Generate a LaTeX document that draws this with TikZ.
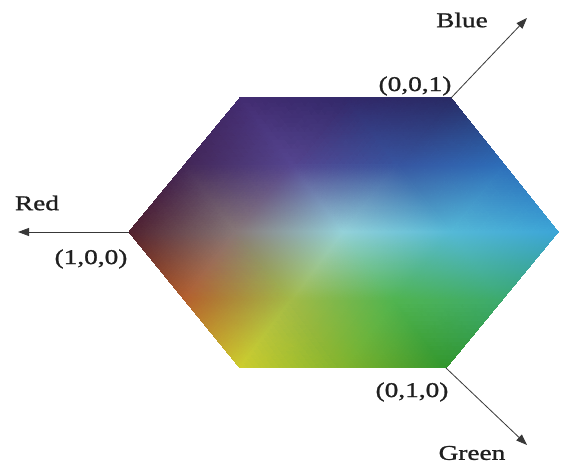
\documentclass[tikz,border=0pt]{standalone}
\usepackage{fontspec}
\setmainfont{Liberation Serif}
\newfontfamily\labfont[FakeStretch=1.3,FakeBold=1.2]{Liberation Serif}
\usepackage{pgfplots}
\pgfplotsset{compat=1.18}
\usetikzlibrary{arrows.meta}
\begin{document}
\begin{tikzpicture}[x=1pt,y=1pt,
  lab/.style={font=\labfont\fontsize{21}{24}\selectfont, inner sep=0pt, text=black!88},
  axisarrow/.style={draw=black!78, line width=0.8pt, -{Triangle[length=11pt,width=8pt]}}]
\useasboundingbox (0,0) rectangle (573,463);
\begin{axis}[anchor=origin, at={(0,0)}, x=1pt, y=1pt, hide axis,
  xmin=0, xmax=573, ymin=0, ymax=463, clip=false]
\addplot[patch, patch type=triangle, shader=interp, mesh/color input=explicit]
table[meta=c, row sep=\\] {
x y c\\
236 231 rgb=0.530,0.470,0.470\\
129 231 rgb=0.310,0.125,0.180\\
184.5 298 rgb=0.260,0.150,0.340\\
236 231 rgb=0.530,0.470,0.470\\
184.5 298 rgb=0.260,0.150,0.340\\
291.5 298 rgb=0.330,0.270,0.560\\
291.5 298 rgb=0.330,0.270,0.560\\
184.5 298 rgb=0.260,0.150,0.340\\
240 365 rgb=0.260,0.170,0.440\\
291.5 298 rgb=0.330,0.270,0.560\\
240 365 rgb=0.260,0.170,0.440\\
345.5 365 rgb=0.196,0.157,0.412\\
291.5 298 rgb=0.330,0.270,0.560\\
345.5 365 rgb=0.196,0.157,0.412\\
397 298 rgb=0.216,0.333,0.627\\
397 298 rgb=0.216,0.333,0.627\\
345.5 365 rgb=0.196,0.157,0.412\\
451 365 rgb=0.157,0.165,0.392\\
397 298 rgb=0.216,0.333,0.627\\
451 365 rgb=0.157,0.165,0.392\\
504.5 298 rgb=0.176,0.431,0.725\\
397 298 rgb=0.216,0.333,0.627\\
504.5 298 rgb=0.176,0.431,0.725\\
450.5 231 rgb=0.333,0.725,0.843\\
450.5 231 rgb=0.333,0.725,0.843\\
504.5 298 rgb=0.176,0.431,0.725\\
558 231 rgb=0.235,0.647,0.843\\
450.5 231 rgb=0.333,0.725,0.843\\
558 231 rgb=0.235,0.647,0.843\\
502 163 rgb=0.235,0.667,0.431\\
450.5 231 rgb=0.333,0.725,0.843\\
502 163 rgb=0.235,0.667,0.431\\
394.5 163 rgb=0.314,0.706,0.314\\
394.5 163 rgb=0.314,0.706,0.314\\
502 163 rgb=0.235,0.667,0.431\\
446 95 rgb=0.196,0.588,0.176\\
394.5 163 rgb=0.314,0.706,0.314\\
446 95 rgb=0.196,0.588,0.176\\
343 95 rgb=0.510,0.706,0.176\\
394.5 163 rgb=0.314,0.706,0.314\\
343 95 rgb=0.510,0.706,0.176\\
291.5 163 rgb=0.640,0.730,0.280\\
291.5 163 rgb=0.640,0.730,0.280\\
343 95 rgb=0.510,0.706,0.176\\
240 95 rgb=0.804,0.804,0.176\\
291.5 163 rgb=0.640,0.730,0.280\\
240 95 rgb=0.804,0.804,0.176\\
184.5 163 rgb=0.706,0.373,0.176\\
291.5 163 rgb=0.640,0.730,0.280\\
184.5 163 rgb=0.706,0.373,0.176\\
236 231 rgb=0.530,0.470,0.470\\
236 231 rgb=0.530,0.470,0.470\\
184.5 163 rgb=0.706,0.373,0.176\\
129 231 rgb=0.310,0.125,0.180\\
343 231 rgb=0.580,0.820,0.850\\
236 231 rgb=0.530,0.470,0.470\\
291.5 298 rgb=0.330,0.270,0.560\\
343 231 rgb=0.580,0.820,0.850\\
291.5 298 rgb=0.330,0.270,0.560\\
397 298 rgb=0.216,0.333,0.627\\
343 231 rgb=0.580,0.820,0.850\\
397 298 rgb=0.216,0.333,0.627\\
450.5 231 rgb=0.333,0.725,0.843\\
343 231 rgb=0.580,0.820,0.850\\
450.5 231 rgb=0.333,0.725,0.843\\
394.5 163 rgb=0.314,0.706,0.314\\
343 231 rgb=0.580,0.820,0.850\\
394.5 163 rgb=0.314,0.706,0.314\\
291.5 163 rgb=0.640,0.730,0.280\\
343 231 rgb=0.580,0.820,0.850\\
291.5 163 rgb=0.640,0.730,0.280\\
236 231 rgb=0.530,0.470,0.470\\
};
\end{axis}
% hexagon corners
\coordinate (v0) at (129,231);
\coordinate (v2) at (451,365);
\coordinate (v4) at (446,95);
% arrow ends
\coordinate (redend) at (18,231);
\coordinate (blueend) at (527,445);
\coordinate (greenend) at (527,18);
\draw[axisarrow] (v0) -- (redend);
\draw[axisarrow] (v2) -- (blueend);
\draw[axisarrow] (v4) -- (greenend);
% labels
\node[lab] (blue) at (462,443) {Blue};
\node[lab] (p001) at (415,377) {(0,0,1)};
\node[lab] (red) at (37,260) {Red};
\node[lab] (p100) at (91,204) {(1,0,0)};
\node[lab] (p010) at (412,71) {(0,1,0)};
\node[lab] (green) at (472,10) {Green};
\end{tikzpicture}
\end{document}
